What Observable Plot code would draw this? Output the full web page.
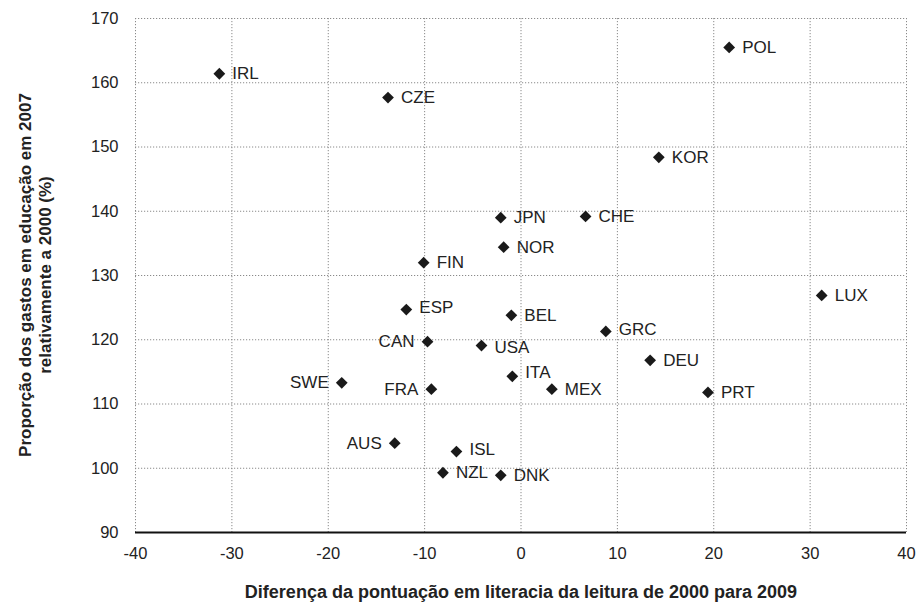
<!DOCTYPE html>
<html>
<head>
<meta charset="utf-8">
<script src="https://cdn.jsdelivr.net/npm/d3@7"></script>
<script src="https://cdn.jsdelivr.net/npm/@observablehq/plot@0.6"></script>
<style>
  html, body { margin: 0; padding: 0; background: #fff; }
  svg { font-family: "Liberation Sans", Arial, sans-serif; }
</style>
</head>
<body>
<div id="chart"></div>
<script>
const countries = ["IRL","CZE","POL","KOR","JPN","CHE","NOR","FIN","LUX","ESP","BEL","GRC","CAN","USA","DEU","ITA","SWE","FRA","MEX","PRT","AUS","ISL","NZL","DNK"];
const readingDiff = [-31.3,-13.8,21.6,14.3,-2.1,6.7,-1.8,-10.1,31.2,-11.9,-1.0,8.8,-9.7,-4.1,13.4,-0.9,-18.6,-9.3,3.2,19.4,-13.1,-6.7,-8.1,-2.1];
const spendingRatio = [161.4,157.7,165.5,148.4,139.0,139.2,134.4,132.0,126.9,124.7,123.8,121.3,119.7,119.1,116.8,114.3,113.3,112.3,112.3,111.8,103.9,102.6,99.3,98.9];
const xTicks = [-40,-30,-20,-10,0,10,20,30,40];
const yTicks = [90,100,110,120,130,140,150,160,170];
const xTitle = "Diferença da pontuação em literacia da leitura de 2000 para 2009";
const yTitle = ["Proporção dos gastos em educação em 2007", "relativamente a 2000 (%)"];

const data = countries.map((c, i) => ({country: c, x: readingDiff[i], y: spendingRatio[i]}));
const leftLabeled = new Set(["CAN","SWE","FRA","AUS"]);
const labelDy = {ITA: -4, GRC: -2, ISL: -2, ESP: -2, USA: 2};
const rightData = data.filter(d => !leftLabeled.has(d.country));
const leftData = data.filter(d => leftLabeled.has(d.country));

const W = 919, H = 606;
const fmt = d => String(d);
const chart = Plot.plot({
  width: W,
  height: H,
  marginLeft: 135,
  marginRight: 13,
  marginTop: 18,
  marginBottom: 74,
  style: {fontFamily: "'Liberation Sans', Arial, sans-serif", background: "#fff"},
  x: {domain: [-40, 40], label: null},
  y: {domain: [90, 170], label: null},
  marks: [
    Plot.gridX(xTicks, {stroke: "#8a8a8a", strokeOpacity: 1, strokeDasharray: "1.2,1.8"}),
    Plot.gridY(yTicks.filter(v => v > 90), {stroke: "#8a8a8a", strokeOpacity: 1, strokeDasharray: "1.2,1.8"}),
    Plot.ruleY([90], {stroke: "#111", strokeWidth: 2}),
    Plot.axisX(xTicks, {tickSize: 0, tickPadding: 15, fontSize: 16.5, fill: "#222", label: null, tickFormat: fmt}),
    Plot.axisY(yTicks, {tickSize: 0, tickPadding: 17, fontSize: 16.5, fill: "#222", label: null, tickFormat: fmt}),
    Plot.dot(data, {x: "x", y: "y", symbol: "diamond2", r: 5.3, fill: "#1a1a1a", stroke: "none"}),
    Plot.text(rightData, {x: "x", y: "y", text: "country", textAnchor: "start", dx: 13, fontSize: 17, fill: "#222"}),
    Plot.text(leftData, {x: "x", y: "y", text: "country", textAnchor: "end", dx: -13, fontSize: 17, fill: "#222"})
  ]
});

const svg = d3.select(chart);
// small vertical nudges to individual labels
svg.selectAll("g[aria-label='text'] text").each(function() {
  const t = this.textContent;
  if (labelDy[t] !== undefined) {
    const cur = this.getAttribute("transform") || "";
    this.setAttribute("transform", cur + ` translate(0,${labelDy[t]})`);
  }
});

svg.append("text")
  .attr("x", 521)
  .attr("y", 598)
  .attr("text-anchor", "middle")
  .attr("font-weight", "bold")
  .attr("font-size", 18)
  .attr("fill", "#222")
  .text(xTitle);

const g = svg.append("g").attr("transform", "translate(0,275) rotate(-90)");
g.append("text").attr("x", 0).attr("y", 31).attr("text-anchor", "middle")
  .attr("font-weight", "bold").attr("font-size", 17).attr("fill", "#222").text(yTitle[0]);
g.append("text").attr("x", 0).attr("y", 51).attr("text-anchor", "middle")
  .attr("font-weight", "bold").attr("font-size", 17).attr("fill", "#222").text(yTitle[1]);

document.getElementById("chart").appendChild(chart);
</script>
</body>
</html>
